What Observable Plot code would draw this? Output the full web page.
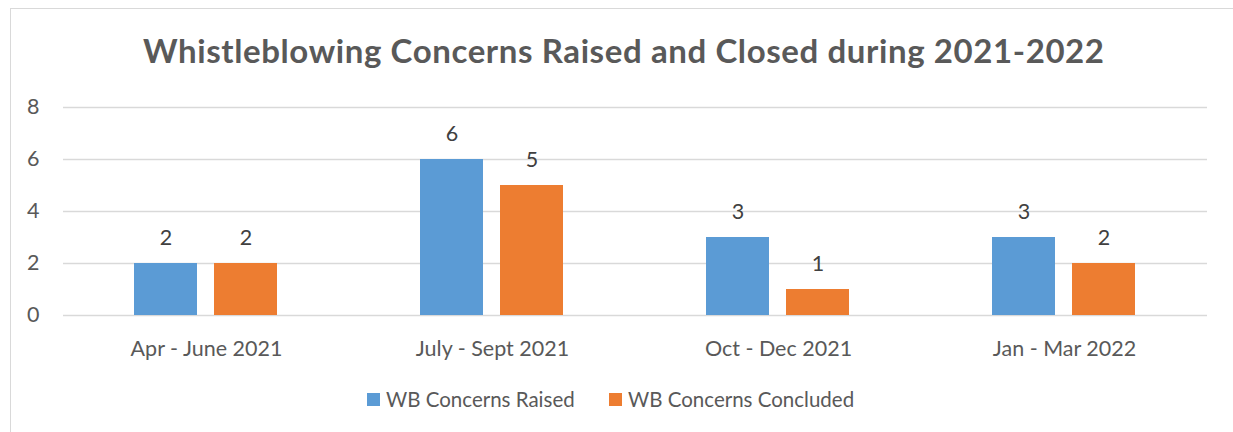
<!DOCTYPE html>
<html><head><meta charset="utf-8">
<script src="https://cdn.jsdelivr.net/npm/d3@7"></script>
<script src="https://cdn.jsdelivr.net/npm/@observablehq/plot@0.6"></script>
<style>
body{margin:0;background:#fff;}
#wrap{position:relative;width:1233px;height:432px;overflow:hidden;}
#frame{position:absolute;left:10px;top:8px;width:1400px;height:600px;border-left:1.5px solid #d9d9d9;border-top:1.5px solid #d9d9d9;}
#chart{position:absolute;left:0;top:0;}
</style></head>
<body><div id="wrap"><div id="frame"></div><div id="chart"></div></div>
<script>
const categories = ["Apr - June 2021", "July - Sept 2021", "Oct - Dec 2021", "Jan - Mar 2022"];
const seriesNames = ["WB Concerns Raised", "WB Concerns Concluded"];
const raised = [2, 6, 3, 3];
const concluded = [2, 5, 1, 2];
const yTicks = [0, 2, 4, 6, 8];
const colors = ["#5B9BD5", "#ED7D31"];
const titleText = "Whistleblowing Concerns Raised and Closed during 2021-2022";

const data = [];
categories.forEach((c, i) => {
  data.push({cat: c, series: seriesNames[0], value: raised[i]});
  data.push({cat: c, series: seriesNames[1], value: concluded[i]});
});

const font = "Lato, 'Open Sans', sans-serif";
const plot = Plot.plot({
  width: 1233, height: 432,
  marginLeft: 62, marginRight: 25, marginTop: 107, marginBottom: 117,
  style: {fontFamily: font, fontSize: "21.5px", color: "#595959", background: "transparent"},
  fx: {domain: categories, padding: 0, label: null, tickSize: 0, tickPadding: 25, axis: "bottom"},
  x: {domain: seriesNames, paddingInner: 0.21, paddingOuter: 0.874, axis: null},
  y: {domain: [0, 8], ticks: yTicks, label: null, tickSize: 0, tickPadding: 24, tickFormat: d => d},
  color: {domain: seriesNames, range: colors},
  marks: [
    Plot.ruleY(yTicks, {stroke: "#d9d9d9", strokeWidth: 1.5}),
    Plot.barY(data, {fx: "cat", x: "series", y: "value", fill: "series"}),
    Plot.text(data, {fx: "cat", x: "series", y: "value", text: "value", dy: -25, fill: "#404040", fontSize: 21.5})
  ]
});
document.getElementById("chart").appendChild(plot);

const svg = d3.select(plot);
svg.append("text")
  .attr("x", 623.5).attr("y", 63)
  .attr("text-anchor", "middle")
  .attr("font-family", font).attr("font-weight", "bold").attr("font-size", 33)
  .attr("textLength", 961).attr("lengthAdjust", "spacing")
  .attr("fill", "#595959")
  .text(titleText);

const legendY = 400;
const lx = [367, 609];
seriesNames.forEach((s, i) => {
  svg.append("rect").attr("x", lx[i]).attr("y", legendY - 7).attr("width", 13).attr("height", 13).attr("fill", colors[i]);
  svg.append("text").attr("x", lx[i] + 19).attr("y", legendY).attr("dy", "0.35em")
    .attr("text-anchor", "start")
    .attr("font-family", font).attr("font-size", 20.5).attr("fill", "#595959").text(s);
});
</script>
</body></html>
